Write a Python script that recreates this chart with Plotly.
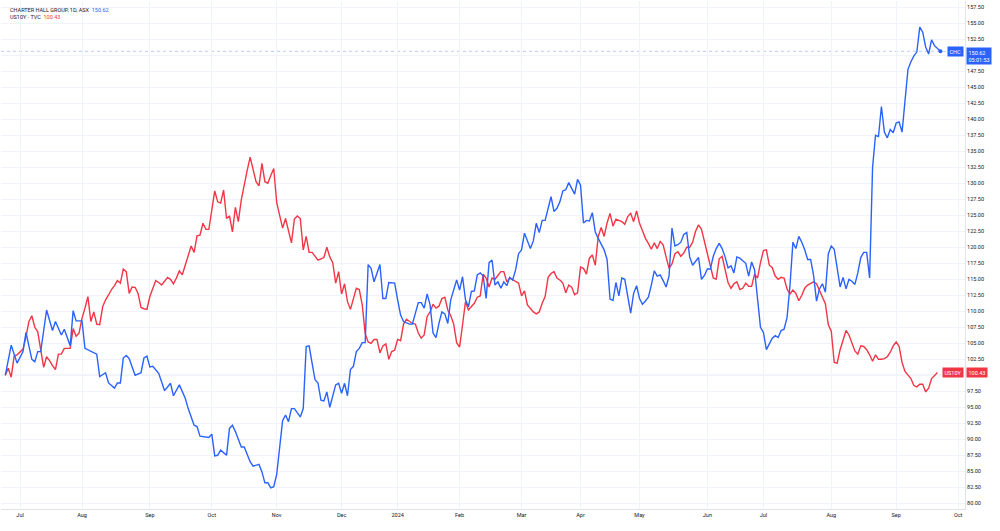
import plotly.graph_objects as go

# ---------------- data ----------------
chc_dates = [
    "2023-06-26", "2023-06-28", "2023-06-30", "2023-07-04", "2023-07-05", "2023-07-07", "2023-07-10",
    "2023-07-11", "2023-07-12", "2023-07-14", "2023-07-18", "2023-07-19", "2023-07-21", "2023-07-24",
    "2023-07-26", "2023-07-27", "2023-07-28", "2023-08-01", "2023-08-02", "2023-08-04", "2023-08-08",
    "2023-08-09", "2023-08-11", "2023-08-14", "2023-08-16", "2023-08-17", "2023-08-18", "2023-08-21",
    "2023-08-22", "2023-08-23", "2023-08-25", "2023-08-29", "2023-08-30", "2023-08-31", "2023-09-01",
    "2023-09-04", "2023-09-06", "2023-09-08", "2023-09-12", "2023-09-13", "2023-09-15", "2023-09-19",
    "2023-09-20", "2023-09-22", "2023-09-25", "2023-09-26", "2023-09-28", "2023-09-29", "2023-10-02",
    "2023-10-03", "2023-10-04", "2023-10-05", "2023-10-09", "2023-10-10", "2023-10-11", "2023-10-12",
    "2023-10-16", "2023-10-17", "2023-10-19", "2023-10-20", "2023-10-24", "2023-10-25", "2023-10-26",
    "2023-10-27", "2023-10-30", "2023-10-31", "2023-11-01", "2023-11-02", "2023-11-03", "2023-11-06",
    "2023-11-07", "2023-11-08", "2023-11-09", "2023-11-13", "2023-11-14", "2023-11-15", "2023-11-16",
    "2023-11-17", "2023-11-20", "2023-11-21", "2023-11-22", "2023-11-23", "2023-11-24", "2023-11-27",
    "2023-11-28", "2023-11-29", "2023-11-30", "2023-12-01", "2023-12-04", "2023-12-05", "2023-12-06",
    "2023-12-07", "2023-12-08", "2023-12-11", "2023-12-12", "2023-12-13", "2023-12-14", "2023-12-15",
    "2023-12-18", "2023-12-20", "2023-12-21", "2023-12-22", "2023-12-27", "2023-12-28", "2023-12-29",
    "2024-01-02", "2024-01-03", "2024-01-04", "2024-01-08", "2024-01-09", "2024-01-10", "2024-01-11",
    "2024-01-12", "2024-01-15", "2024-01-16", "2024-01-17", "2024-01-18", "2024-01-19", "2024-01-22",
    "2024-01-23", "2024-01-24", "2024-01-25", "2024-01-29", "2024-01-31", "2024-02-01", "2024-02-02",
    "2024-02-05", "2024-02-06", "2024-02-07", "2024-02-08", "2024-02-09", "2024-02-12", "2024-02-13",
    "2024-02-14", "2024-02-15", "2024-02-16", "2024-02-19", "2024-02-20", "2024-02-21", "2024-02-22",
    "2024-02-23", "2024-02-26", "2024-02-27", "2024-02-28", "2024-02-29", "2024-03-01", "2024-03-04",
    "2024-03-06", "2024-03-07", "2024-03-08", "2024-03-11", "2024-03-12", "2024-03-13", "2024-03-15",
    "2024-03-18", "2024-03-19", "2024-03-20", "2024-03-21", "2024-03-22", "2024-03-25", "2024-03-27",
    "2024-03-28", "2024-04-02", "2024-04-03", "2024-04-04", "2024-04-05", "2024-04-08", "2024-04-09",
    "2024-04-10", "2024-04-12", "2024-04-15", "2024-04-16", "2024-04-17", "2024-04-18", "2024-04-19",
    "2024-04-22", "2024-04-23", "2024-04-24", "2024-04-26", "2024-04-29", "2024-04-30", "2024-05-01",
    "2024-05-02", "2024-05-03", "2024-05-06", "2024-05-07", "2024-05-08", "2024-05-09", "2024-05-10",
    "2024-05-13", "2024-05-14", "2024-05-15", "2024-05-16", "2024-05-17", "2024-05-20", "2024-05-21",
    "2024-05-22", "2024-05-23", "2024-05-24", "2024-05-27", "2024-05-28", "2024-05-29", "2024-05-30",
    "2024-05-31", "2024-06-03", "2024-06-04", "2024-06-05", "2024-06-06", "2024-06-07", "2024-06-11",
    "2024-06-12", "2024-06-13", "2024-06-14", "2024-06-17", "2024-06-18", "2024-06-19", "2024-06-20",
    "2024-06-21", "2024-06-24", "2024-06-25", "2024-06-26", "2024-06-27", "2024-06-28", "2024-07-01",
    "2024-07-02", "2024-07-03", "2024-07-04", "2024-07-05", "2024-07-08", "2024-07-09", "2024-07-10",
    "2024-07-11", "2024-07-12", "2024-07-15", "2024-07-16", "2024-07-17", "2024-07-18", "2024-07-19",
    "2024-07-22", "2024-07-23", "2024-07-24", "2024-07-25", "2024-07-26", "2024-07-29", "2024-07-30",
    "2024-07-31", "2024-08-01", "2024-08-02", "2024-08-05", "2024-08-06", "2024-08-07", "2024-08-08",
    "2024-08-09", "2024-08-12", "2024-08-13", "2024-08-14", "2024-08-15", "2024-08-16", "2024-08-19",
    "2024-08-20", "2024-08-21", "2024-08-22", "2024-08-23", "2024-08-26", "2024-08-27", "2024-08-28",
    "2024-08-29", "2024-08-30", "2024-09-02", "2024-09-03", "2024-09-04", "2024-09-05", "2024-09-06",
    "2024-09-09", "2024-09-10", "2024-09-11", "2024-09-12", "2024-09-13", "2024-09-16", "2024-09-17",
    "2024-09-18", "2024-09-19", "2024-09-20", "2024-09-23",
]
chc_values = [
    100.0, 104.7, 101.9, 103.7, 106.7, 102.5, 102.1,
    103.7, 103.7, 110.2, 107.0, 108.4, 106.3, 107.2,
    104.6, 110.1, 108.5, 108.5, 104.2, 103.7, 103.3,
    99.8, 100.4, 98.8, 98.0, 98.8, 98.8, 102.7,
    103.1, 102.6, 100.0, 100.4, 102.7, 103.0, 101.3,
    101.4, 100.3, 97.6, 98.75, 96.8, 98.5, 96.4,
    94.8, 92.2, 92.0, 90.5, 90.4, 90.3, 90.8,
    87.4, 87.5, 88.3, 87.5, 91.7, 92.2, 91.2,
    88.8, 88.8, 86.5, 85.8, 86.1, 84.9, 83.2,
    83.2, 82.4, 82.6, 84.5, 89.0, 92.9, 93.8,
    92.75, 94.8, 94.8, 93.5, 94.8, 104.5, 104.6,
    101.9, 99.3, 98.8, 96.1, 96.0, 97.4, 95.0,
    96.9, 98.5, 98.75, 97.2, 98.75, 96.8, 100.9,
    101.4, 103.7, 104.2, 105.1, 105.1, 117.3, 116.7,
    114.6, 117.3, 112.0, 112.0, 114.5, 114.4, 114.4,
    111.8, 109.4, 108.4, 108.0, 108.0, 109.9, 111.35,
    111.35, 110.5, 112.7, 111.0, 106.6, 105.9, 108.1,
    109.9, 109.6, 108.1, 111.8, 114.9, 113.3, 115.4,
    111.8, 110.7, 113.1, 113.2, 115.7, 116.0, 115.5,
    112.0, 117.6, 118.0, 114.1, 114.6, 113.6, 114.6,
    114.0, 115.3, 114.9, 116.5, 119.0, 119.6, 122.2,
    119.8, 121.0, 123.75, 122.3, 124.2, 124.2, 127.9,
    125.6, 126.1, 127.1, 128.8, 129.0, 130.1, 128.3,
    130.6, 129.7, 123.8, 124.2, 124.1, 125.4, 122.4,
    121.4, 119.6, 118.1, 111.9, 111.7, 114.5, 112.4,
    115.2, 115.0, 112.3, 109.7, 112.8, 114.0, 112.0,
    111.1, 111.6, 112.2, 114.1, 116.3, 115.5, 115.7,
    114.8, 113.8, 115.5, 123.0, 120.2, 120.4, 120.8,
    122.0, 122.3, 118.5, 117.2, 117.8, 118.4, 115.0,
    115.6, 116.6, 116.6, 118.6, 119.8, 120.6, 119.8,
    118.5, 116.8, 117.1, 116.0, 118.5, 118.3, 117.9,
    117.5, 115.5, 117.7, 116.5, 111.8, 107.5, 106.7,
    104.0, 104.9, 105.8, 106.2, 105.9, 107.0, 107.2,
    109.0, 114.0, 120.8, 119.8, 121.7, 120.8, 119.6,
    118.1, 118.1, 115.6, 111.6, 113.5, 114.3, 113.0,
    119.0, 120.2, 119.7, 116.5, 113.8, 115.3, 113.5,
    115.0, 114.7, 114.2, 116.0, 118.4, 119.2, 119.2,
    115.2, 132.5, 137.5, 137.3, 142.0, 138.0, 137.1,
    138.4, 137.9, 139.4, 139.6, 138.0, 143.5, 147.8,
    149.0, 149.9, 150.5, 154.4, 153.6, 151.3, 150.2,
    152.4, 151.5, 151.0, 150.62,
]

us10y_dates = [
    "2023-06-26", "2023-06-27", "2023-06-28", "2023-06-29", "2023-06-30", "2023-07-03", "2023-07-04",
    "2023-07-05", "2023-07-06", "2023-07-07", "2023-07-10", "2023-07-11", "2023-07-12", "2023-07-13",
    "2023-07-14", "2023-07-17", "2023-07-18", "2023-07-19", "2023-07-20", "2023-07-21", "2023-07-24",
    "2023-07-25", "2023-07-26", "2023-07-27", "2023-07-28", "2023-07-31", "2023-08-01", "2023-08-02",
    "2023-08-03", "2023-08-04", "2023-08-07", "2023-08-08", "2023-08-09", "2023-08-10", "2023-08-11",
    "2023-08-14", "2023-08-15", "2023-08-16", "2023-08-17", "2023-08-18", "2023-08-21", "2023-08-22",
    "2023-08-23", "2023-08-24", "2023-08-25", "2023-08-28", "2023-08-29", "2023-08-30", "2023-08-31",
    "2023-09-01", "2023-09-04", "2023-09-05", "2023-09-06", "2023-09-07", "2023-09-08", "2023-09-11",
    "2023-09-12", "2023-09-13", "2023-09-14", "2023-09-15", "2023-09-18", "2023-09-19", "2023-09-20",
    "2023-09-21", "2023-09-22", "2023-09-25", "2023-09-26", "2023-09-27", "2023-09-28", "2023-09-29",
    "2023-10-02", "2023-10-03", "2023-10-04", "2023-10-05", "2023-10-06", "2023-10-09", "2023-10-10",
    "2023-10-11", "2023-10-12", "2023-10-13", "2023-10-16", "2023-10-17", "2023-10-18", "2023-10-19",
    "2023-10-20", "2023-10-23", "2023-10-24", "2023-10-25", "2023-10-26", "2023-10-27", "2023-10-30",
    "2023-10-31", "2023-11-01", "2023-11-02", "2023-11-03", "2023-11-06", "2023-11-07", "2023-11-08",
    "2023-11-09", "2023-11-10", "2023-11-13", "2023-11-14", "2023-11-15", "2023-11-16", "2023-11-17",
    "2023-11-20", "2023-11-21", "2023-11-22", "2023-11-23", "2023-11-24", "2023-11-27", "2023-11-28",
    "2023-11-29", "2023-11-30", "2023-12-01", "2023-12-04", "2023-12-05", "2023-12-06", "2023-12-07",
    "2023-12-08", "2023-12-11", "2023-12-12", "2023-12-13", "2023-12-14", "2023-12-15", "2023-12-18",
    "2023-12-19", "2023-12-20", "2023-12-21", "2023-12-22", "2023-12-27", "2023-12-28", "2023-12-29",
    "2024-01-02", "2024-01-03", "2024-01-04", "2024-01-05", "2024-01-08", "2024-01-09", "2024-01-10",
    "2024-01-11", "2024-01-12", "2024-01-15", "2024-01-16", "2024-01-17", "2024-01-18", "2024-01-19",
    "2024-01-22", "2024-01-23", "2024-01-24", "2024-01-25", "2024-01-29", "2024-01-30", "2024-01-31",
    "2024-02-01", "2024-02-02", "2024-02-05", "2024-02-06", "2024-02-07", "2024-02-08", "2024-02-09",
    "2024-02-12", "2024-02-13", "2024-02-14", "2024-02-15", "2024-02-16", "2024-02-19", "2024-02-20",
    "2024-02-21", "2024-02-22", "2024-02-23", "2024-02-26", "2024-02-27", "2024-02-28", "2024-02-29",
    "2024-03-01", "2024-03-04", "2024-03-05", "2024-03-06", "2024-03-07", "2024-03-08", "2024-03-11",
    "2024-03-12", "2024-03-13", "2024-03-14", "2024-03-15", "2024-03-18", "2024-03-19", "2024-03-20",
    "2024-03-21", "2024-03-22", "2024-03-25", "2024-03-26", "2024-03-27", "2024-03-28", "2024-04-02",
    "2024-04-03", "2024-04-04", "2024-04-05", "2024-04-08", "2024-04-09", "2024-04-10", "2024-04-11",
    "2024-04-12", "2024-04-15", "2024-04-16", "2024-04-17", "2024-04-18", "2024-04-19", "2024-04-22",
    "2024-04-23", "2024-04-24", "2024-04-26", "2024-04-29", "2024-04-30", "2024-05-01", "2024-05-02",
    "2024-05-03", "2024-05-06", "2024-05-07", "2024-05-08", "2024-05-09", "2024-05-10", "2024-05-13",
    "2024-05-14", "2024-05-15", "2024-05-16", "2024-05-17", "2024-05-20", "2024-05-21", "2024-05-22",
    "2024-05-23", "2024-05-24", "2024-05-27", "2024-05-28", "2024-05-29", "2024-05-30", "2024-05-31",
    "2024-06-03", "2024-06-04", "2024-06-05", "2024-06-06", "2024-06-07", "2024-06-11", "2024-06-12",
    "2024-06-13", "2024-06-14", "2024-06-17", "2024-06-18", "2024-06-19", "2024-06-20", "2024-06-21",
    "2024-06-24", "2024-06-25", "2024-06-26", "2024-06-27", "2024-06-28", "2024-07-01", "2024-07-02",
    "2024-07-03", "2024-07-04", "2024-07-05", "2024-07-08", "2024-07-09", "2024-07-10", "2024-07-11",
    "2024-07-12", "2024-07-15", "2024-07-16", "2024-07-17", "2024-07-18", "2024-07-19", "2024-07-22",
    "2024-07-23", "2024-07-24", "2024-07-25", "2024-07-26", "2024-07-29", "2024-07-30", "2024-07-31",
    "2024-08-01", "2024-08-02", "2024-08-05", "2024-08-06", "2024-08-07", "2024-08-08", "2024-08-09",
    "2024-08-12", "2024-08-13", "2024-08-14", "2024-08-15", "2024-08-16", "2024-08-19", "2024-08-20",
    "2024-08-21", "2024-08-22", "2024-08-23", "2024-08-26", "2024-08-27", "2024-08-28", "2024-08-29",
    "2024-08-30", "2024-09-02", "2024-09-03", "2024-09-04", "2024-09-05", "2024-09-06", "2024-09-09",
    "2024-09-10", "2024-09-11", "2024-09-12", "2024-09-13", "2024-09-16", "2024-09-17", "2024-09-18",
    "2024-09-19", "2024-09-20",
]
us10y_values = [
    100.0, 101.1, 99.7, 103.0, 103.2, 103.7, 104.1,
    106.0, 108.4, 109.3, 107.5, 106.8, 104.2, 101.25,
    102.9, 102.3, 101.5, 100.9, 103.3, 103.3, 104.2,
    104.2, 104.2, 107.3, 106.1, 106.6, 108.9, 110.5,
    112.3, 108.4, 109.9, 108.0, 107.9, 110.7, 111.8,
    112.55, 113.4, 114.0, 114.8, 114.4, 116.6, 116.2,
    112.8, 113.8, 113.75, 112.8, 110.6, 110.4, 110.3,
    112.3, 113.4, 114.8, 114.5, 114.1, 114.7, 115.3,
    115.0, 114.3, 115.2, 116.3, 115.7, 117.2, 118.8,
    120.2, 119.2, 121.8, 121.9, 123.75, 122.8, 122.8,
    125.8, 128.8, 127.1, 126.9, 128.95, 124.5, 124.9,
    122.4, 126.25, 124.0, 127.4, 130.0, 132.0, 134.1,
    132.2, 130.25, 129.6, 133.1, 130.25, 130.0, 131.2,
    132.3, 127.0, 125.0, 123.0, 124.5, 122.6, 120.7,
    124.4, 124.9, 124.5, 119.6, 121.7, 119.2, 119.2,
    118.5, 118.0, 118.2, 118.4, 120.0, 118.5, 117.6,
    114.4, 116.2, 112.7, 114.3, 111.5, 110.3, 111.9,
    113.6, 113.4, 111.0, 106.5, 105.2, 105.0, 105.6,
    105.6, 103.5, 104.6, 104.9, 102.5, 103.7, 103.95,
    105.6, 105.4, 108.0, 108.75, 108.4, 108.1, 108.0,
    106.6, 105.8, 106.3, 109.2, 109.9, 111.1, 110.5,
    110.8, 112.0, 112.2, 110.2, 109.3, 108.0, 105.1,
    104.4, 107.9, 111.5, 110.2, 110.7, 111.25, 112.2,
    112.4, 115.8, 115.2, 113.8, 115.2, 115.0, 115.7,
    116.2, 116.2, 114.6, 115.2, 114.9, 114.6, 114.4,
    112.4, 113.2, 111.0, 110.5, 109.9, 109.6, 109.9,
    111.25, 112.3, 115.3, 115.9, 116.2, 115.2, 114.9,
    114.4, 112.9, 114.1, 113.75, 112.6, 112.9, 116.9,
    116.7, 115.8, 118.3, 118.8, 117.2, 121.7, 123.1,
    121.7, 123.8, 125.3, 123.3, 124.4, 124.2, 124.0,
    123.6, 124.8, 125.3, 124.0, 125.7, 123.75, 122.6,
    121.4, 120.6, 119.7, 120.7, 119.8, 120.9, 120.4,
    118.5, 116.7, 117.4, 119.0, 119.3, 118.6, 119.1,
    120.0, 120.0, 120.8, 122.5, 123.5, 122.8, 120.9,
    118.6, 116.8, 115.2, 115.0, 118.2, 118.6, 116.3,
    114.5, 113.6, 114.3, 114.6, 113.4, 113.6, 114.4,
    113.9, 113.9, 115.8, 115.2, 117.6, 119.5, 119.6,
    117.2, 116.8, 115.5, 115.0, 115.3, 115.2, 113.5,
    112.7, 113.3, 112.8, 111.65, 112.5, 113.6, 114.1,
    114.3, 114.6, 114.3, 113.2, 112.2, 111.2, 107.9,
    106.9, 102.0, 101.9, 104.0, 105.6, 107.0, 106.3,
    104.9, 103.8, 103.3, 104.6, 104.5, 104.0, 103.2,
    102.2, 103.2, 102.5, 102.5, 102.6, 102.9, 103.6,
    104.6, 105.2, 104.5, 102.0, 100.6, 100.0, 99.5,
    98.4, 98.2, 98.6, 98.6, 97.4, 98.0, 99.5,
    100.0, 100.43,
]

month_tick_dates = [
    "2023-07-03", "2023-08-01", "2023-09-01", "2023-10-02", "2023-11-01", "2023-12-01",
    "2024-01-02", "2024-02-01", "2024-03-01", "2024-04-02", "2024-05-01", "2024-06-03",
    "2024-07-01", "2024-08-01", "2024-09-02", "2024-10-01",
]
month_tick_labels = ["Jul", "Aug", "Sep", "Oct", "Nov", "Dec", "2024", "Feb",
                     "Mar", "Apr", "May", "Jun", "Jul", "Aug", "Sep", "Oct"]

# price-scale ticks (80.00 ... 157.50); the two levels hidden behind the last-value labels
price_ticks = [80.0, 82.5, 85.0, 87.5, 90.0, 92.5, 95.0, 97.5, 100.0, 102.5, 105.0, 107.5,
               110.0, 112.5, 115.0, 117.5, 120.0, 122.5, 125.0, 127.5, 130.0, 132.5, 135.0,
               137.5, 140.0, 142.5, 145.0, 147.5, 150.0, 152.5, 155.0, 157.5]
hidden_price_ticks = [100.0, 150.0]

# ASX non-trading weekdays (the time scale follows the main symbol's sessions)
asx_holidays = ["2023-12-25", "2023-12-26", "2024-01-01", "2024-01-26",
                "2024-03-29", "2024-04-01", "2024-04-25", "2024-06-10"]

chc_name = "CHARTER HALL GROUP, 1D, ASX"
us10y_name = "US10Y · TVC"
chc_short, us10y_short = "CHC", "US10Y"
countdown = "05:01:53"

# ---------------- styling ----------------
BLUE = "#2962FF"
RED = "#F23645"
GRID = "#F0F3FA"
AXIS = "#E0E3EB"
TEXT = "#131722"
FONT = "Roboto, Liberation Sans, sans-serif"
FS = 5.5

fig = go.Figure()
fig.add_trace(go.Scatter(x=us10y_dates, y=us10y_values, mode="lines",
                         line=dict(color=RED, width=1.4), hoverinfo="skip"))
fig.add_trace(go.Scatter(x=chc_dates, y=chc_values, mode="lines",
                         line=dict(color=BLUE, width=1.4), hoverinfo="skip"))
fig.add_trace(go.Scatter(x=chc_dates[-1:], y=chc_values[-1:], mode="markers",
                         marker=dict(color=BLUE, size=4), hoverinfo="skip"))

chc_last = chc_values[-1]
us_last = us10y_values[-1]

# price line for CHC and 100 baseline
fig.add_hline(y=chc_last, line=dict(color="#A9BCF2", width=0.8, dash="dot"), layer="below")
fig.add_hline(y=100, line=dict(color="#C9CBD1", width=1), layer="below")

# legend text top-left
fig.add_annotation(xref="paper", yref="paper", x=0, y=1, xanchor="left", yanchor="top",
                   xshift=7, yshift=-4, showarrow=False, align="left",
                   text=(f"{chc_name}  <span style='color:{BLUE}'>{chc_last:.2f}</span><br>"
                         f"{us10y_name}  <span style='color:{RED}'>{us_last:.2f}</span>"),
                   font=dict(family=FONT, size=FS, color=TEXT))

# right-edge labels
fig.add_annotation(xref="paper", yref="y", x=1, y=chc_last, xanchor="right", yanchor="middle",
                   xshift=-1, showarrow=False, text=chc_short, bgcolor=BLUE, borderpad=1.5,
                   font=dict(family=FONT, size=FS, color="white"))
fig.add_annotation(xref="paper", yref="y", x=1, y=chc_last, xanchor="left", yanchor="top",
                   xshift=1, yshift=4, showarrow=False, text=f"{chc_last:.2f}<br>{countdown}",
                   bgcolor=BLUE, borderpad=1.5, align="left",
                   font=dict(family=FONT, size=FS, color="white"))
fig.add_annotation(xref="paper", yref="y", x=1, y=us_last, xanchor="right", yanchor="middle",
                   xshift=-1, showarrow=False, text=us10y_short, bgcolor=RED, borderpad=1.5,
                   font=dict(family=FONT, size=FS, color="white"))
fig.add_annotation(xref="paper", yref="y", x=1, y=us_last, xanchor="left", yanchor="middle",
                   xshift=1, showarrow=False, text=f"{us_last:.2f}",
                   bgcolor=RED, borderpad=1.5,
                   font=dict(family=FONT, size=FS, color="white"))

fig.update_layout(
    width=1000, height=531,
    margin=dict(l=1, r=35, t=1, b=22),
    paper_bgcolor="white", plot_bgcolor="white",
    showlegend=False,
    font=dict(family=FONT, size=FS, color=TEXT),
)
fig.update_xaxes(
    type="date",
    range=["2023-06-22 13:00", "2024-10-03 08:00"],
    rangebreaks=[dict(bounds=["sat", "mon"]), dict(values=asx_holidays)],
    tickmode="array", tickvals=month_tick_dates, ticktext=month_tick_labels,
    showgrid=True, gridcolor=GRID, gridwidth=1,
    showline=True, linecolor=AXIS, linewidth=1,
    ticks="", ticklen=0, tickfont=dict(family=FONT, size=FS, color=TEXT),
    zeroline=False, fixedrange=True,
)
fig.update_yaxes(
    side="right", range=[79.11, 158.48],
    tickmode="array", tickvals=price_ticks,
    ticktext=["" if v in hidden_price_ticks else f"{v:.2f}" for v in price_ticks],
    showgrid=True, gridcolor=GRID, gridwidth=1,
    showline=True, linecolor=AXIS, linewidth=1,
    ticks="", ticklen=0, tickfont=dict(family=FONT, size=FS, color=TEXT),
    zeroline=False, fixedrange=True,
)

fig.write_html("out.html")
